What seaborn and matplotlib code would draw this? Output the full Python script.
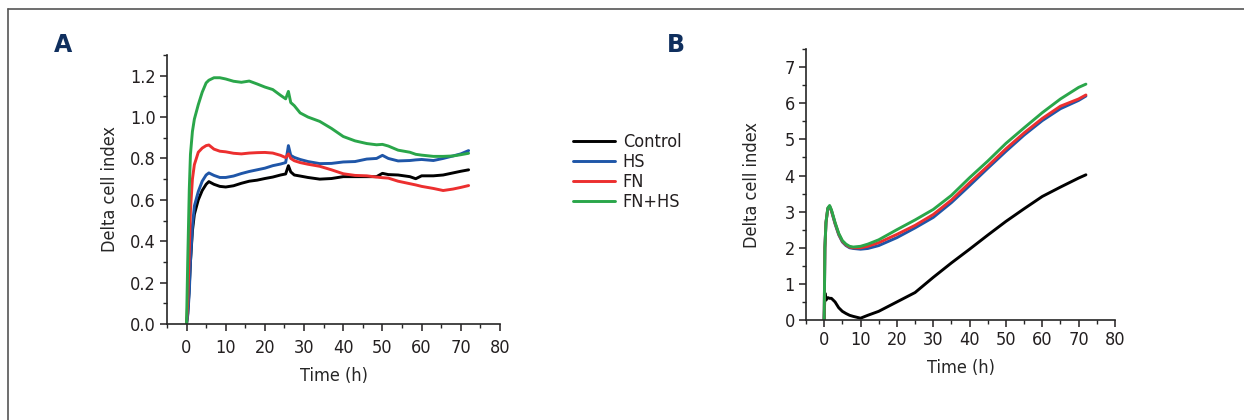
#!/usr/bin/env python3

import pandas as pd
import matplotlib.pyplot as plt
from matplotlib.lines import Line2D
from matplotlib.ticker import MultipleLocator, FormatStrFormatter
import seaborn as sns

GROUPS = ["Control", "HS", "FN", "FN+HS"]
COLORS = ["#000000", "#1f56a8", "#ec2f2f", "#2aa64a"]

# panel A: delta cell index over time
time_a = [0, 0.3, 0.7, 1, 1.5, 2, 3, 4, 5, 5.7, 7, 8.5, 10, 12, 14, 16, 18, 20, 22, 24,
          25.3, 26, 26.6, 27.5, 29, 31, 34, 37, 40, 43, 46, 48.5, 50, 51.5, 54, 57,
          58.5, 60, 63, 65.5, 68, 70, 72]
control_a = [0.0, 0.05, 0.18, 0.3, 0.45, 0.53, 0.6, 0.645, 0.675, 0.688, 0.675, 0.665,
             0.662, 0.668, 0.68, 0.69, 0.695, 0.703, 0.71, 0.72, 0.725, 0.765, 0.735,
             0.72, 0.715, 0.708, 0.70, 0.703, 0.712, 0.712, 0.712, 0.712, 0.728, 0.722,
             0.72, 0.712, 0.702, 0.716, 0.716, 0.72, 0.73, 0.738, 0.745]
hs_a = [0.0, 0.04, 0.15, 0.3, 0.47, 0.57, 0.64, 0.69, 0.72, 0.73, 0.718, 0.708, 0.708,
        0.715, 0.727, 0.737, 0.745, 0.753, 0.765, 0.773, 0.78, 0.862, 0.815, 0.805,
        0.795, 0.785, 0.775, 0.776, 0.783, 0.785, 0.797, 0.80, 0.815, 0.80, 0.788,
        0.79, 0.793, 0.795, 0.79, 0.80, 0.812, 0.822, 0.838]
fn_a = [0.0, 0.1, 0.35, 0.55, 0.7, 0.77, 0.83, 0.85, 0.862, 0.865, 0.845, 0.835, 0.832,
        0.825, 0.822, 0.826, 0.828, 0.829, 0.826, 0.815, 0.804, 0.822, 0.80, 0.789,
        0.78, 0.772, 0.762, 0.745, 0.726, 0.718, 0.716, 0.71, 0.707, 0.705, 0.69,
        0.678, 0.672, 0.665, 0.655, 0.645, 0.652, 0.66, 0.669]
fnhs_a = [0.0, 0.3, 0.65, 0.82, 0.93, 0.99, 1.06, 1.12, 1.165, 1.178, 1.19, 1.19, 1.184,
          1.173, 1.168, 1.174, 1.16, 1.145, 1.133, 1.105, 1.088, 1.124, 1.07, 1.055,
          1.02, 1.0, 0.979, 0.945, 0.906, 0.885, 0.872, 0.866, 0.868, 0.86, 0.84,
          0.83, 0.82, 0.816, 0.81, 0.81, 0.812, 0.818, 0.825]

# panel B
time_b = [0, 0.2, 0.5, 1, 1.5, 2, 3, 4, 5, 6, 7, 8, 10, 12, 15, 20, 25, 30, 35, 40, 45,
          50, 55, 60, 65, 70, 72]
control_b = [0.0, 0.75, 0.55, 0.62, 0.6, 0.6, 0.5, 0.34, 0.24, 0.18, 0.13, 0.1, 0.05,
             0.13, 0.24, 0.5, 0.76, 1.18, 1.58, 1.96, 2.35, 2.73, 3.08, 3.42, 3.68,
             3.93, 4.02]
hs_b = [0.0, 2.0, 2.7, 3.08, 3.14, 3.02, 2.66, 2.36, 2.16, 2.06, 2.0, 1.98, 1.96, 1.98,
        2.06, 2.28, 2.55, 2.84, 3.25, 3.72, 4.2, 4.67, 5.12, 5.52, 5.85, 6.08, 6.2]
fn_b = [0.0, 2.0, 2.7, 3.09, 3.15, 3.03, 2.68, 2.38, 2.18, 2.08, 2.02, 2.0, 2.0, 2.04,
        2.14, 2.37, 2.62, 2.92, 3.32, 3.8, 4.26, 4.74, 5.18, 5.58, 5.92, 6.12, 6.23]
fnhs_b = [0.0, 2.0, 2.7, 3.1, 3.17, 3.05, 2.7, 2.4, 2.2, 2.1, 2.04, 2.02, 2.04, 2.1,
          2.22, 2.5, 2.77, 3.06, 3.45, 3.94, 4.4, 4.89, 5.32, 5.74, 6.12, 6.44, 6.53]


def long_frame(t, series):
    parts = []
    for name, vals in zip(GROUPS, series):
        parts.append(pd.DataFrame({"Time (h)": t, "Delta cell index": vals, "group": name}))
    return pd.concat(parts, ignore_index=True)


df_a = long_frame(time_a, [control_a, hs_a, fn_a, fnhs_a])
df_b = long_frame(time_b, [control_b, hs_b, fn_b, fnhs_b])

sns.set_theme(style="ticks")
# the original uses a condensed sans, pick a narrow face when there is one
plt.rcParams["font.family"] = ["Liberation Sans Narrow", "DejaVu Sans"]
plt.rcParams["font.stretch"] = "condensed"
plt.rcParams["axes.linewidth"] = 1.2
plt.rcParams["text.color"] = "#231f20"

fig = plt.figure(figsize=(12.44, 4.2), dpi=100)
ax_a = fig.add_axes([0.1342, 0.2286, 0.2677, 0.6405])
ax_b = fig.add_axes([0.6479, 0.2381, 0.2484, 0.6450])

palette = dict(zip(GROUPS, COLORS))
for ax, df in [(ax_a, df_a), (ax_b, df_b)]:
    sns.lineplot(data=df, x="Time (h)", y="Delta cell index", hue="group",
                 palette=palette, hue_order=GROUPS, estimator=None, sort=False,
                 linewidth=2.1, ax=ax, legend=(ax is ax_a))
    ax.set_xlim(-5, 80)
    ax.xaxis.set_major_locator(MultipleLocator(10))
    ax.xaxis.set_minor_locator(MultipleLocator(5))
    for side in ["top", "right"]:
        ax.spines[side].set_visible(False)
    ax.tick_params(which="major", direction="out", length=5, width=1.1,
                   labelsize=13, colors="#231f20", pad=3)
    ax.tick_params(which="minor", direction="out", length=3, width=1.0)

ax_a.tick_params(axis="x", pad=6)
ax_a.set_xlabel("Time (h)", fontsize=13, labelpad=7)
ax_a.set_ylabel("Delta cell index", fontsize=13, labelpad=8)
ax_b.set_xlabel("Time (h)", fontsize=13, labelpad=7)
ax_b.set_ylabel("Delta cell index", fontsize=13, labelpad=17)

ax_a.set_ylim(0, 1.3)
ax_a.yaxis.set_major_locator(MultipleLocator(0.2))
ax_a.yaxis.set_minor_locator(MultipleLocator(0.1))
ax_a.yaxis.set_major_formatter(FormatStrFormatter("%.1f"))

ax_b.set_ylim(0, 7.5)
ax_b.yaxis.set_major_locator(MultipleLocator(1))
ax_b.yaxis.set_minor_locator(MultipleLocator(0.5))

handles, labels = ax_a.get_legend_handles_labels()
ax_a.get_legend().remove()
fig.legend(handles, labels, loc="center left", bbox_to_anchor=(0.4535, 0.59),
           frameon=False, fontsize=13, handlelength=2.3, handletextpad=0.45,
           labelspacing=0.12, borderpad=0)

fig.text(0.051, 0.893, "A", fontsize=17, fontweight="bold", color="#0f2f5e",
         family="DejaVu Sans", fontstretch="normal", ha="center", va="center")
fig.text(0.543, 0.893, "B", fontsize=17, fontweight="bold", color="#0f2f5e",
         family="DejaVu Sans", fontstretch="normal", ha="center", va="center")

# outer frame: top and left edges
fig.add_artist(Line2D([0.0064, 1.0], [0.979, 0.979], color="#555555", lw=1.2,
                      transform=fig.transFigure))
fig.add_artist(Line2D([0.0064, 0.0064], [0.0, 0.979], color="#555555", lw=1.2,
                      transform=fig.transFigure))

fig.savefig("out.png", dpi=100)
